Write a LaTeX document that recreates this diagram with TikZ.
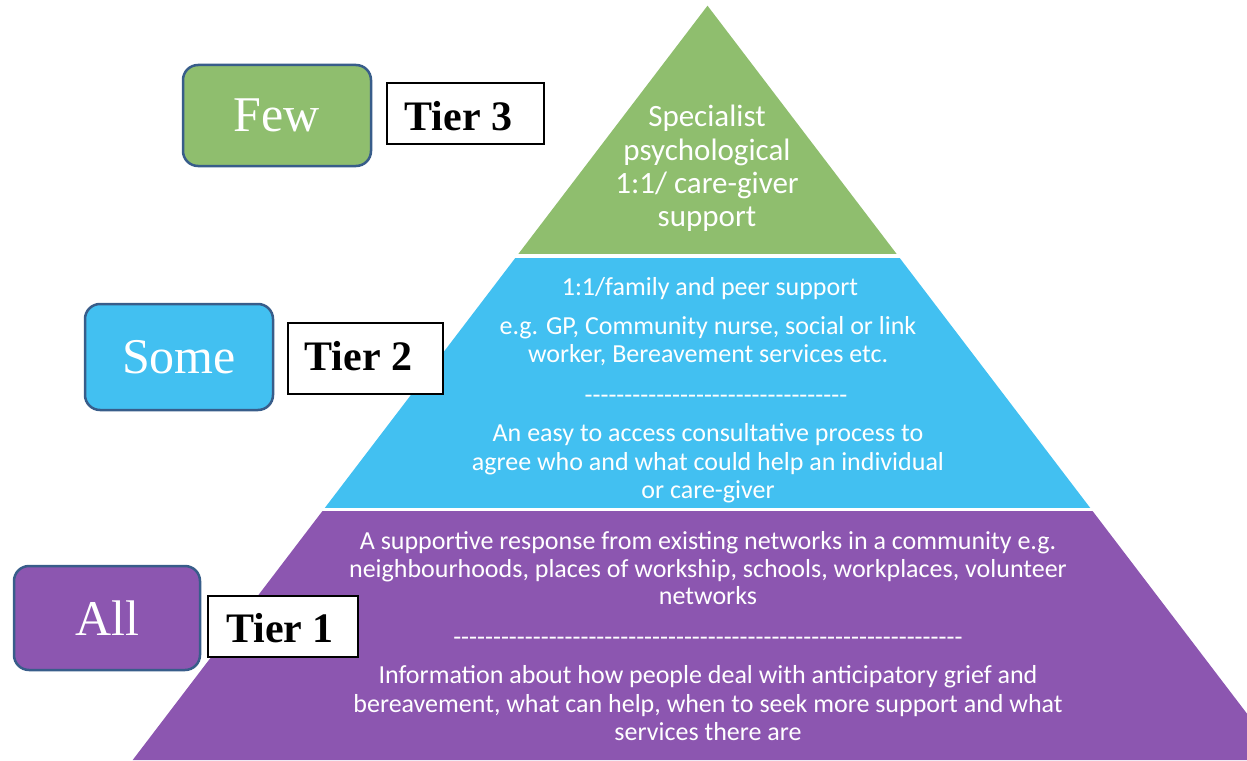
\documentclass[tikz,border=0pt]{standalone}
\usepackage{fontspec}
\setmainfont{Liberation Serif}
\newfontfamily\bodyfont{Carlito}
\definecolor{tgreen}{HTML}{8FBE6E}
\definecolor{tblue}{HTML}{42C0F1}
\definecolor{tpurple}{HTML}{8C56B0}
\definecolor{bordblue}{HTML}{385D8A}
\newcommand\dashrow[1]{\foreach \k in {1,...,#1}{-}}
\tikzset{
  ptext/.style={text=white, font=\bodyfont\fontsize{26}{28}\selectfont, anchor=base, inner sep=0pt},
  ptextbig/.style={text=white, font=\bodyfont\fontsize{31}{33}\selectfont, anchor=base, inner sep=0pt},
  groupbox/.style={draw=bordblue, line width=2.5pt, rounded corners=15pt, text=white,
    font=\fontsize{50}{60}\selectfont, inner sep=0pt},
  tierbox/.style={draw=black, line width=1.5pt, fill=white, text depth=0pt,
    font=\bfseries\fontsize{42}{48}\selectfont, inner sep=0pt},
  sepline/.style={white, line width=3.5pt}
}
\begin{document}
\begin{tikzpicture}[x=1pt,y=-1pt]
\useasboundingbox (0,0) rectangle (1247,760);
\begin{scope}
\clip (0,0) rectangle (1247,760);
\fill[tgreen] (707.5,5.7) -- (898.2,256) -- (516.8,256) -- cycle;
\fill[tblue] (516.8,256) -- (898.2,256) -- (1091.4,509.5) -- (323.6,509.5) -- cycle;
\fill[tpurple] (323.6,509.5) -- (1091.4,509.5) -- (1282.3,760) -- (132.7,760) -- cycle;
\draw[sepline] (480,256) -- (940,256);
\draw[sepline] (290,509.5) -- (1130,509.5);
\end{scope}

% Tier 3 text
\node[ptextbig] (t3a) at (707,126) {Specialist};
\node[ptextbig] (t3b) at (707,160) {psychological};
\node[ptextbig] (t3c) at (707,193) {1:1/ care-giver};
\node[ptextbig] (t3d) at (707,226) {support};

% Tier 2 text
\node[ptext] (t2a) at (710,295) {1:1/family and peer support};
\node[ptext] (t2b) at (708,334) {e.g. GP, Community nurse, social or link};
\node[ptext] (t2c) at (708,362) {worker, Bereavement services etc.};
\node[ptext] (t2d) at (716,403) {\dashrow{33}};
\node[ptext] (t2e) at (708,441) {An easy to access consultative process to};
\node[ptext] (t2f) at (708,470) {agree who and what could help an individual};
\node[ptext] (t2g) at (708,498) {or care-giver};

% Tier 1 text
\node[ptext] (t1a) at (708,549) {A supportive response from existing networks in a community e.g.};
\node[ptext] (t1b) at (708,577) {neighbourhoods, places of workship, schools, workplaces, volunteer};
\node[ptext] (t1c) at (708,604) {networks};
\node[ptext] (t1d) at (708,645) {\dashrow{64}};
\node[ptext] (t1e) at (708,683) {Information about how people deal with anticipatory grief and};
\node[ptext] (t1f) at (708,712) {bereavement, what can help, when to seek more support and what};
\node[ptext] (t1g) at (708,740) {services there are};

% Left group boxes
\node[groupbox, fill=tgreen, minimum width=188pt, minimum height=101pt] (few) at (277,115.5) {Few};
\node[groupbox, fill=tblue, minimum width=188pt, minimum height=106pt] (some) at (179,357) {Some};
\node[groupbox, fill=tpurple, minimum width=186pt, minimum height=104pt] (all) at (107,618) {All};

% Tier labels
\node[tierbox, text height=34pt, minimum width=157pt, minimum height=61pt] (tier3) at (465.5,113.5) {Tier 3\kern14pt};
\node[tierbox, text height=24pt, minimum width=155pt, minimum height=71pt] (tier2) at (365.5,358.5) {Tier 2\kern14pt};
\node[tierbox, text height=31pt, minimum width=150pt, minimum height=61pt] (tier1) at (283,626.5) {Tier 1\kern6pt};
\end{tikzpicture}
\end{document}
